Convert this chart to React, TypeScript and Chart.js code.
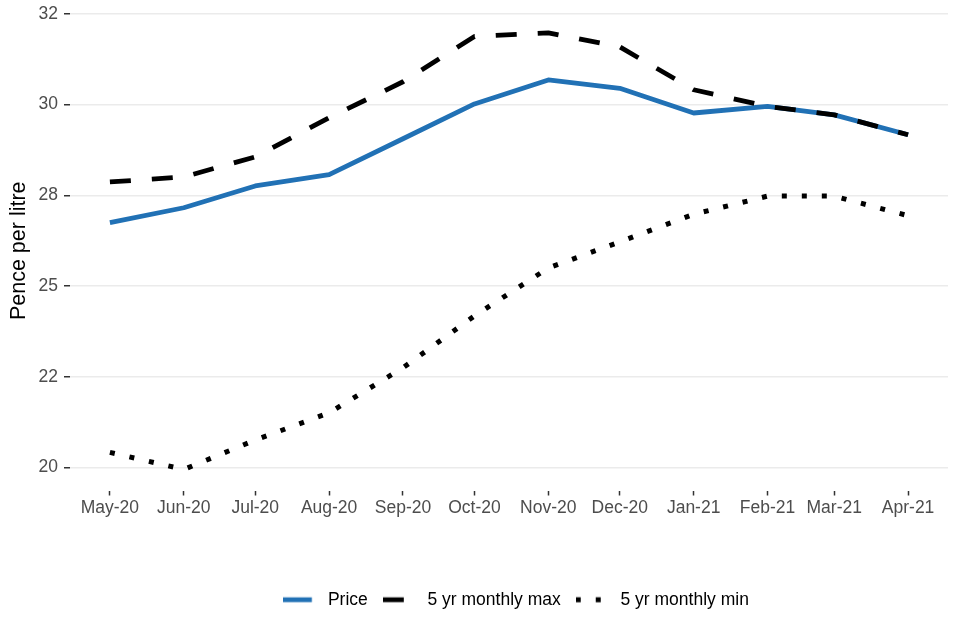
import { useEffect, useRef } from "react";
import { Chart, registerables } from "chart.js";

Chart.register(...registerables);

// ---- data ----
const MONTHS = ["May-20", "Jun-20", "Jul-20", "Aug-20", "Sep-20", "Oct-20", "Nov-20", "Dec-20", "Jan-21", "Feb-21", "Mar-21", "Apr-21"];
const MONTH_STARTS = ["2020-05-01", "2020-06-01", "2020-07-01", "2020-08-01", "2020-09-01", "2020-10-01", "2020-11-01", "2020-12-01", "2021-01-01", "2021-02-01", "2021-03-01", "2021-04-01"];
const PRICE = [26.75, 27.16, 27.76, 28.07, 29.06, 30.02, 30.68, 30.45, 29.77, 29.95, 29.72, 29.17];
const MAX_5YR = [27.87, 28.01, 28.56, 29.64, 30.63, 31.88, 31.98, 31.59, 30.41, 29.95, 29.72, 29.17];
const MIN_5YR = [20.42, 19.95, 20.76, 21.51, 22.75, 24.18, 25.5, 26.22, 26.98, 27.48, 27.48, 26.94];
const SERIES_NAMES = ["Price", "5 yr monthly max", "5 yr monthly min"];
const Y_TICKS = [20, 22.5, 25, 27.5, 30, 32.5];
const Y_TICK_LABELS = ["20", "22", "25", "28", "30", "32"];
const Y_TITLE = "Pence per litre";

const FONT = "'Liberation Sans', Arial, Helvetica, sans-serif";
const BLUE = "#2171b5";

function makeSample(color: string, dash: number[], lw: number): HTMLCanvasElement {
  const c = document.createElement("canvas");
  c.width = 36;
  c.height = 10;
  const g = c.getContext("2d")!;
  g.strokeStyle = color;
  g.lineWidth = lw;
  g.lineCap = "butt";
  g.setLineDash(dash);
  g.beginPath();
  g.moveTo(0, 5);
  g.lineTo(28.7, 5);
  g.stroke();
  return c;
}

const legendShift = {
  id: "legendShift",
  afterLayout(chart: any) {
    if (chart.legend) chart.legend.left += 14;
  },
};

export default function App() {
  const ref = useRef<HTMLCanvasElement | null>(null);

  useEffect(() => {
    if (!ref.current) return;
    const DAY = 86400000;
    const t0 = Date.parse(MONTH_STARTS[0]);
    const days = MONTH_STARTS.map((d) => (Date.parse(d) - t0) / DAY);
    const span = days[days.length - 1] - days[0];
    const xMin = days[0] - 0.05 * span;
    const xMax = days[days.length - 1] + 0.05 * span;

    const styles = [
      { color: BLUE, dash: [] as number[], width: 4.8, order: 2 },
      { color: "#000000", dash: [21, 21], width: 4.8, order: 1 },
      { color: "#000000", dash: [5, 15], width: 5, order: 0 },
    ];
    const values = [PRICE, MAX_5YR, MIN_5YR];
    const samples = styles.map((s) => makeSample(s.color, s.dash, s.width));

    const chart = new Chart(ref.current, {
      type: "line",
      plugins: [legendShift],
      data: {
        datasets: values.map((vals, i) => ({
          label: SERIES_NAMES[i],
          data: days.map((x, j) => ({ x, y: vals[j] })),
          borderColor: styles[i].color,
          backgroundColor: styles[i].color,
          borderWidth: styles[i].width,
          borderDash: styles[i].dash,
          borderCapStyle: "butt",
          borderJoinStyle: "round",
          pointRadius: 0,
          tension: 0,
          fill: false,
          order: styles[i].order,
        })),
      },
      options: {
        responsive: false,
        animation: false,
        events: [],
        layout: { padding: { top: 11, left: 0, right: 12, bottom: 21.5 } },
        plugins: {
          tooltip: { enabled: false },
          legend: {
            position: "bottom",
            align: "center",
            fullSize: false,
            labels: {
              usePointStyle: true,
              pointStyleWidth: 36,
              padding: 15,
              color: "#000000",
              font: { family: FONT, size: 17.5 },
              generateLabels: (c: any) =>
                c.data.datasets.map((ds: any, i: number) => ({
                  text: ds.label,
                  pointStyle: samples[i],
                  fillStyle: "rgba(0,0,0,0)",
                  strokeStyle: "rgba(0,0,0,0)",
                  lineWidth: 0,
                  hidden: false,
                  datasetIndex: i,
                  fontColor: "#000000",
                })),
            },
          },
        },
        scales: {
          x: {
            type: "linear",
            min: xMin,
            max: xMax,
            afterBuildTicks: (s: any) => {
              s.ticks = days.map((v) => ({ value: v }));
            },
            afterFit: (s: any) => {
              s.height = 85.5;
              s.paddingLeft = 0;
              s.paddingRight = 0;
            },
            ticks: {
              autoSkip: false,
              maxRotation: 0,
              minRotation: 0,
              padding: 2,
              color: "#4d4d4d",
              font: { family: FONT, size: 17.5 },
              callback: (_v: any, i: number) => MONTHS[i],
            },
            grid: {
              drawOnChartArea: false,
              drawTicks: true,
              tickLength: 5,
              tickColor: "#333333",
              tickWidth: 1.5,
            },
            border: { display: false },
          },
          y: {
            type: "linear",
            min: 19.37,
            max: 32.58,
            afterBuildTicks: (s: any) => {
              s.ticks = Y_TICKS.map((v) => ({ value: v }));
            },
            afterFit: (s: any) => {
              s.width = 70;
              s.paddingTop = 0;
              s.paddingBottom = 0;
            },
            ticks: {
              padding: 6,
              color: "#4d4d4d",
              font: { family: FONT, size: 17.5 },
              callback: (_v: any, i: number) => Y_TICK_LABELS[i],
            },
            grid: {
              color: "#ebebeb",
              lineWidth: 1.5,
              tickLength: 6,
              tickColor: "#333333",
              tickWidth: 1.5,
            },
            border: { display: false },
            title: {
              display: true,
              text: Y_TITLE,
              color: "#000000",
              font: { family: FONT, size: 21.5 },
              padding: { top: 6.3, bottom: 0 },
            },
          },
        },
      } as any,
    });
    return () => chart.destroy();
  }, []);

  return (
    <div style={{ position: "absolute", left: 0, top: 0, width: 960, height: 640, background: "#fff" }}>
      <canvas ref={ref} width={960} height={640} style={{ display: "block", width: 960, height: 640 }} />
    </div>
  );
}
